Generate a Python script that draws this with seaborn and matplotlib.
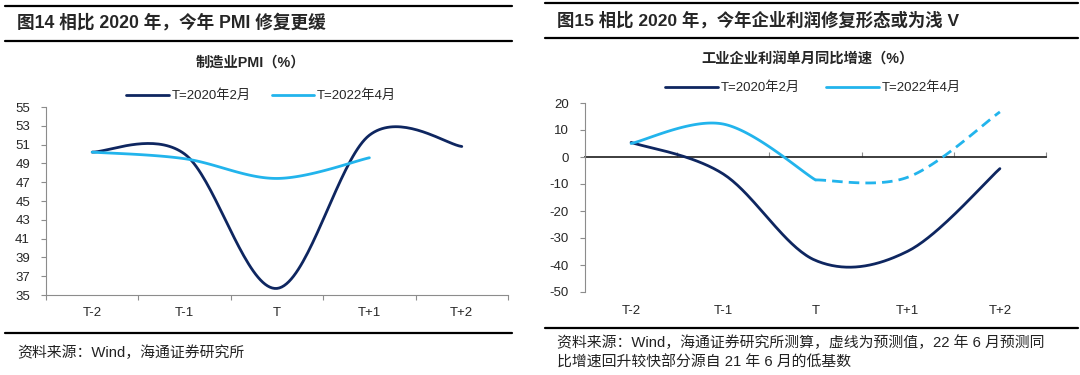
import numpy as np
import pandas as pd
import matplotlib
matplotlib.use("Agg")
import matplotlib.pyplot as plt
import seaborn as sns
from matplotlib.lines import Line2D

sns.set_theme(style="white")
plt.rcParams['font.family'] = ['Liberation Sans', 'Noto Sans CJK SC', 'DejaVu Sans']
plt.rcParams['axes.unicode_minus'] = False

# ---------------- data ----------------
categories = ["T-2", "T-1", "T", "T+1", "T+2"]
series_names = ["T=2020年2月", "T=2022年4月"]

pmi_2020 = [50.2, 50.0, 35.7, 52.0, 50.8]
pmi_2022 = [50.2, 49.5, 47.4, 49.6]

profit_2020 = [5.4, -6.3, -38.3, -34.9, -4.3]
profit_2022 = [5.0, 12.2, -8.5, -7.5, 16.7]   # last two values are forecasts
profit_2022_actual_n = 3                        # first 3 points are actual (solid)

pmi_ticks = list(range(35, 56, 2))
profit_ticks = list(range(-50, 21, 10))

title_left = "图14 相比 2020 年，今年 PMI 修复更缓"
title_right = "图15 相比 2020 年，今年企业利润修复形态或为浅 V"
sub_left = "制造业PMI（%）"
sub_right = "工业企业利润单月同比增速（%）"
src_left = "资料来源：Wind，海通证券研究所"
src_right_1 = "资料来源：Wind，海通证券研究所测算，虚线为预测值，22 年 6 月预测同"
src_right_2 = "比增速回升较快部分源自 21 年 6 月的低基数"

DARK = "#0E2660"
LIGHT = "#22B4EC"
GREY = "#8C8C8C"


def smooth(xs, ys, n=40):
    """Excel-like smoothed line (Catmull-Rom Bezier) through the data points."""
    pts = np.column_stack([np.asarray(xs, float), np.asarray(ys, float)])
    out = []
    for i in range(len(pts) - 1):
        p0 = pts[i - 1] if i > 0 else pts[i]
        p1, p2 = pts[i], pts[i + 1]
        p3 = pts[i + 2] if i + 2 < len(pts) else pts[i + 1]
        c1 = p1 + (p2 - p0) / 6
        c2 = p2 - (p3 - p1) / 6
        t = np.linspace(0, 1, n)[:, None]
        seg = (1 - t) ** 3 * p1 + 3 * (1 - t) ** 2 * t * c1 + 3 * (1 - t) * t ** 2 * c2 + t ** 3 * p2
        out.append(seg if i == 0 else seg[1:])
    arr = np.vstack(out)
    return pd.DataFrame({"x": arr[:, 0], "y": arr[:, 1]})


def draw(ax, xs, ys, color, ls="-"):
    df = smooth(xs, ys)
    sns.lineplot(data=df, x="x", y="y", ax=ax, color=color, lw=2.0,
                 sort=False, estimator=None, linestyle=ls)


fig = plt.figure(figsize=(10.8, 3.75), dpi=100)

W, H = 1080, 375


def fx(px):
    return px / W


def fy(py):
    return 1 - py / H


# ---------------- decorations ----------------
def hline(x0, x1, y, lw=1.6):
    fig.add_artist(Line2D([fx(x0), fx(x1)], [fy(y), fy(y)], color="black", lw=lw,
                          transform=fig.transFigure))


hline(5, 512, 6)
hline(5, 512, 41)
hline(5, 512, 333)
hline(545, 1078, 3)
hline(545, 1078, 38)
hline(545, 1078, 328)

fig.text(fx(17), fy(23), title_left, fontsize=12.7, fontweight="bold", va="center", ha="left")
fig.text(fx(557), fy(20), title_right, fontsize=12.5, fontweight="bold", va="center", ha="left")
fig.text(fx(250), fy(63), sub_left, fontsize=10.3, fontweight="bold", va="center", ha="center")
fig.text(fx(808), fy(60), sub_right, fontsize=10.3, fontweight="bold", va="center", ha="center")
fig.text(fx(17), fy(353), src_left, fontsize=10.7, va="center", ha="left", color="#222222")
fig.text(fx(557), fy(343), src_right_1, fontsize=10.7, va="center", ha="left", color="#222222")
fig.text(fx(557), fy(363), src_right_2, fontsize=10.7, va="center", ha="left", color="#222222")

xpos = np.arange(len(categories))
bounds = np.arange(len(categories) + 1) - 0.5

# ---------------- left chart ----------------
axL = fig.add_axes([fx(46), fy(295), fx(462), 188 / H])
draw(axL, xpos, pmi_2020, DARK)
draw(axL, xpos[:len(pmi_2022)], pmi_2022, LIGHT)
axL.set_xlim(-0.5, 4.5)
axL.set_ylim(35, 55)
axL.set_yticks(pmi_ticks)
axL.set_xticks(bounds)
axL.set_xticklabels([])
axL.set_xticks(xpos, minor=True)
axL.set_xticklabels(categories, minor=True)
axL.tick_params(axis="x", which="major", direction="out", length=3.5, width=0.8, color=GREY, bottom=True)
axL.tick_params(axis="x", which="minor", length=0, pad=9, labelsize=9.5)
axL.tick_params(axis="y", direction="out", length=3.5, width=0.8, color=GREY, left=True, pad=8, labelsize=9.5)
for s in ["top", "right"]:
    axL.spines[s].set_visible(False)
for s in ["left", "bottom"]:
    axL.spines[s].set_color(GREY)
    axL.spines[s].set_linewidth(0.8)
axL.set_xlabel("")
axL.set_ylabel("")

handles = [Line2D([], [], color=DARK, lw=2.0), Line2D([], [], color=LIGHT, lw=2.0)]
fig.legend(handles, series_names, loc="center", bbox_to_anchor=(fx(261), fy(96)), ncol=2,
           frameon=False, fontsize=9.5, handlelength=3.2, handletextpad=0.2, columnspacing=1.6)

# ---------------- right chart ----------------
axR = fig.add_axes([fx(585), fy(292), fx(461), 189 / H])
draw(axR, xpos, profit_2020, DARK)
n = profit_2022_actual_n
draw(axR, xpos[:n], profit_2022[:n], LIGHT)
draw(axR, xpos[n - 1:], profit_2022[n - 1:], LIGHT, ls=(0, (3.8, 2.2)))
axR.set_xlim(-0.5, 4.5)
ymin, ymax = -50, 20
axR.set_ylim(ymin, ymax)
axR.set_yticks(profit_ticks)
axR.set_xticks(xpos)
axR.set_xticklabels(categories)
axR.tick_params(axis="x", length=0, pad=9, labelsize=9.5)
axR.tick_params(axis="y", direction="out", length=3.5, width=0.8, color=GREY, left=True, pad=8, labelsize=9.5)
for s in ["top", "right", "bottom"]:
    axR.spines[s].set_visible(False)
axR.spines["left"].set_color(GREY)
axR.spines["left"].set_linewidth(0.8)
axR.set_xlabel("")
axR.set_ylabel("")

sec = axR.secondary_xaxis((0 - ymin) / (ymax - ymin))
sec.set_xticks(bounds)
sec.set_xticklabels([])
sec.tick_params(direction="out", length=3.5, width=0.8, color=GREY)
sec.spines["bottom"].set_color(GREY)
sec.spines["bottom"].set_linewidth(0.8)

fig.legend(handles, series_names, loc="center", bbox_to_anchor=(fx(813), fy(88)), ncol=2,
           frameon=False, fontsize=9.5, handlelength=4.0, handletextpad=0.2, columnspacing=2.0)

fig.savefig("out.png", dpi=100)
